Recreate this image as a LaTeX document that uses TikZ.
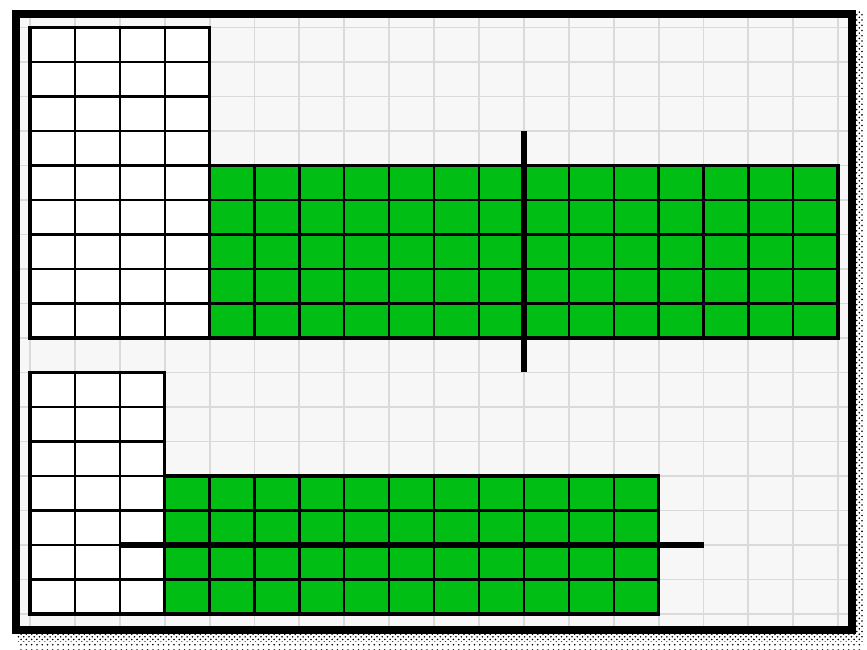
\documentclass[tikz,border=0pt]{standalone}
\usepackage{tikz}
\usetikzlibrary{patterns}
\definecolor{cellgreen}{RGB}{0,190,20}
\definecolor{paper}{RGB}{247,247,247}
\definecolor{gridgray}{RGB}{218,218,218}
\tikzset{faint/.style={color=gridgray, line width=1.1pt}, cellline/.style={line width=1.3pt}, outline/.style={line width=2pt}, cutline/.style={line width=3.4pt}}

\begin{document}
\begin{tikzpicture}[x=0.898cm,y=0.69cm]
        \useasboundingbox (-0.668,-1.043) rectangle (18.641,17.797);
        \fill[white] (-0.668,-1.043) rectangle (18.641,17.797);
        % paper with faint squares
        \fill[color=paper] (-0.223,-0.348) rectangle (18.218,17.28);
        \begin{scope}
            \clip (-0.223,-0.348) rectangle (18.218,17.28);
            \foreach \i in {0,...,18} \draw[faint] (\i,-1) -- (\i,18);
            \foreach \j in {0,...,17} \draw[faint] (-1,\j) -- (19,\j);
        \end{scope}
        % frame and its shadow
        \fill[pattern=crosshatch dots] (18.4,-0.58) rectangle (18.57,17.45); \fill[pattern=crosshatch dots] (-0.29,-0.58) rectangle (18.57,-0.81); \fill[pattern=dots] (-0.29,-0.81) rectangle (18.57,-1.04);
        \draw[line width=4.5pt] (-0.312,-0.464) rectangle (18.307,17.39);

        % upper strip
        \begin{scope}
            \fill[white] (0,8) rectangle (4,17); \fill[cellgreen] (4,8) rectangle (18,13);
            \foreach \i in {1,...,3} \draw[cellline] (\i,8) -- (\i,17);
            \foreach \j in {9,...,16} \draw[cellline] (0,\j) -- (4,\j);
            \foreach \i in {5,...,17} \draw[cellline] (\i,8) -- (\i,13);
            \foreach \j in {9,...,12} \draw[cellline] (4,\j) -- (18,\j);
            \draw[outline] (0,8) rectangle (4,17); \draw[outline] (4,8) rectangle (18,13);
            \coordinate (cuttop) at (11,14); \coordinate (cutbot) at (11,7);
            \draw[cutline] (cuttop) -- (cutbot);
        \end{scope}

        % lower strip
        \begin{scope}
            \fill[white] (0,0) rectangle (3,7); \fill[cellgreen] (3,0) rectangle (14,4);
            \foreach \i in {1,2} \draw[cellline] (\i,0) -- (\i,7);
            \foreach \j in {1,...,6} \draw[cellline] (0,\j) -- (3,\j);
            \foreach \i in {4,...,13} \draw[cellline] (\i,0) -- (\i,4);
            \foreach \j in {1,...,3} \draw[cellline] (3,\j) -- (14,\j);
            \draw[outline] (0,0) rectangle (3,7); \draw[outline] (3,0) rectangle (14,4);
            \coordinate (cutleft) at (2,2); \coordinate (cutright) at (15,2);
            \draw[cutline] (cutleft) -- (cutright);
        \end{scope}
    \end{tikzpicture}
\end{document}
